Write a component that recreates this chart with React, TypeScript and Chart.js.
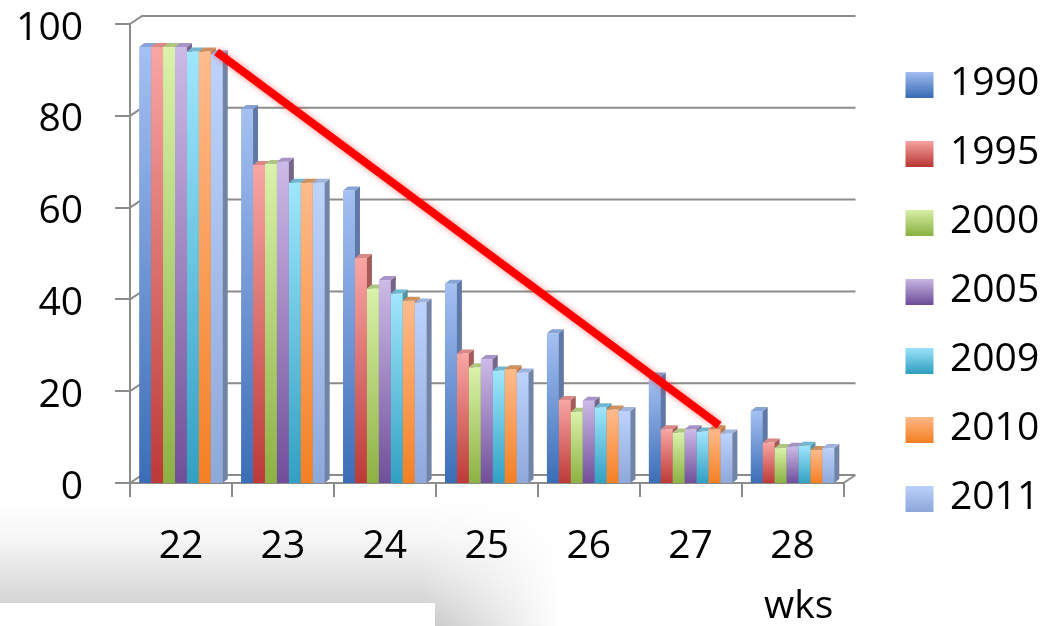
import React, { useEffect, useRef } from "react";
import { Chart, registerables } from "chart.js";

Chart.register(...registerables);

// ---- data ----
const weeks = ["22", "23", "24", "25", "26", "27", "28"];
const years = ["1990", "1995", "2000", "2005", "2009", "2010", "2011"];
const s1990 = [95, 81.5, 63.7, 43.4, 32.6, 23.2, 15.7];
const s1995 = [95, 69.3, 49, 28.2, 18.1, 11.7, 8.8];
const s2000 = [95, 69.5, 42.4, 25.2, 15.5, 11, 7.6];
const s2005 = [95, 70, 44.2, 27, 17.9, 11.7, 7.9];
const s2009 = [94, 65.4, 41.3, 24.5, 16.5, 11.2, 8.1];
const s2010 = [94, 65.4, 39.7, 24.8, 16, 11.7, 7.2];
const s2011 = [93.4, 65.4, 39.3, 24.1, 15.7, 10.8, 7.6];
const yTicks = [0, 20, 40, 60, 80, 100];
const trendX = [0.85, 5.78];
const trendY = [93.9, 12.6];
const axisTitle = "wks";

const seriesValues = [s1990, s1995, s2000, s2005, s2009, s2010, s2011];

// ---- styles ----
const palette = [
  { top: "#a5c0f2", bottom: "#3b6db6", side: "#5f78a6", cap: "#86a2d6" },
  { top: "#f8a6a4", bottom: "#bc3a37", side: "#a35a58", cap: "#d98886" },
  { top: "#daf2aa", bottom: "#8db144", side: "#809b56", cap: "#aec67f" },
  { top: "#ccbae7", bottom: "#704f99", side: "#776489", cap: "#a693c7" },
  { top: "#a0e6fc", bottom: "#32a0c2", side: "#5592a5", cap: "#72b6cf" },
  { top: "#ffbb8c", bottom: "#f38024", side: "#bf7c4a", cap: "#cf9060" },
  { top: "#bdd3fd", bottom: "#8ea8da", side: "#7284a6", cap: "#9fb4dc" },
];
const FONT = "'Open Sans', 'DejaVu Sans', sans-serif";
const GRID = "#8c8c8c";
const CAT_PCT = 0.82;

export default function App() {
  const ref = useRef<HTMLCanvasElement>(null);

  useEffect(() => {
    const canvas = ref.current;
    if (!canvas) return;
    const DX = 5, DY = 4; // bar depth
    const WX = 12, WY = 8; // back wall offset

    const fake3d = {
      id: "fake3d",
      beforeDatasetsDraw(chart: any) {
        const ctx = chart.ctx;
        const { left, right } = chart.chartArea;
        const ys = chart.scales.y;
        const xs = chart.scales.x;
        ctx.save();
        ctx.strokeStyle = GRID;
        ctx.lineWidth = 2;
        yTicks.forEach((v) => {
          const y = ys.getPixelForValue(v);
          ctx.beginPath();
          ctx.moveTo(left, y);
          ctx.lineTo(left + WX, y - WY);
          ctx.lineTo(right + WX, y - WY);
          if (v === 0) {
            ctx.moveTo(right, y);
            ctx.lineTo(right + WX, y - WY);
          }
          ctx.stroke();
        });
        const n = seriesValues.length;
        const catW = Math.abs(xs.getPixelForValue(1) - xs.getPixelForValue(0));
        const bw = (catW * CAT_PCT) / n;
        const base = ys.getPixelForValue(0);
        seriesValues.forEach((vals, i) => {
          const c = palette[i];
          vals.forEach((v, j) => {
            const cx = xs.getPixelForValue(j);
            const l = cx - (catW * CAT_PCT) / 2 + bw * i;
            const r = l + bw;
            const y = ys.getPixelForValue(v);
            const g = ctx.createLinearGradient(0, y, 0, base);
            g.addColorStop(0, c.top);
            g.addColorStop(1, c.bottom);
            ctx.fillStyle = g;
            ctx.fillRect(l, y, bw + 0.5, base - y);
            ctx.fillStyle = c.side;
            ctx.beginPath();
            ctx.moveTo(r, y);
            ctx.lineTo(r + DX, y - DY);
            ctx.lineTo(r + DX, base - DY);
            ctx.lineTo(r, base);
            ctx.closePath();
            ctx.fill();
            ctx.fillStyle = c.cap;
            ctx.beginPath();
            ctx.moveTo(l, y);
            ctx.lineTo(l + DX, y - DY);
            ctx.lineTo(r + DX, y - DY);
            ctx.lineTo(r, y);
            ctx.closePath();
            ctx.fill();
          });
        });
        ctx.restore();
      },
      beforeDatasetDraw(chart: any, args: any) {
        if (args.meta.type === "bar") return false;
        const ctx = chart.ctx;
        ctx.save();
        ctx.shadowColor = "rgba(255,0,0,0.45)";
        ctx.shadowBlur = 6;
        return true;
      },
      afterDatasetDraw(chart: any, args: any) {
        if (args.meta.type !== "bar") chart.ctx.restore();
      },
      afterDraw(chart: any) {
        const lg = chart.legend;
        if (!lg || !lg.legendHitBoxes) return;
        const ctx = chart.ctx;
        const bw = 28, bh = 26, fs = 39;
        lg.legendHitBoxes.forEach((hb: any, k: number) => {
          const item = lg.legendItems[k];
          if (!item) return;
          const c = palette[item.datasetIndex];
          const top = hb.top + Math.max((fs - bh) / 2, 0);
          const g = ctx.createLinearGradient(0, top, 0, top + bh);
          g.addColorStop(0, c.top);
          g.addColorStop(1, c.bottom);
          ctx.save();
          ctx.fillStyle = g;
          ctx.fillRect(hb.left + 3, top + 1, bw, bh);
          ctx.restore();
        });
      },
    };

    const datasets: any[] = seriesValues.map((vals, i) => ({
      type: "bar",
      label: years[i],
      data: vals,
      backgroundColor: palette[i].bottom,
      borderWidth: 0,
      order: 1,
      categoryPercentage: CAT_PCT,
      barPercentage: 1.0,
      xAxisID: "x",
      yAxisID: "y",
    }));
    datasets.push({
      type: "line",
      label: "trend",
      data: trendX.map((x, i) => ({ x, y: trendY[i] })),
      xAxisID: "x2",
      yAxisID: "y",
      borderColor: "#ff0000",
      borderWidth: 8,
      pointRadius: 0,
      borderCapStyle: "butt",
      fill: false,
      order: 0,
      clip: false,
    });

    const chart = new Chart(canvas, {
      type: "bar",
      data: { labels: weeks, datasets },
      options: {
        animation: false,
        responsive: true,
        maintainAspectRatio: false,
        layout: { padding: { top: 0, left: 0, right: 0, bottom: 0 } },
        plugins: {
          tooltip: { enabled: false },
          legend: {
            position: "right",
            align: "start",
            title: { display: true, text: "", font: { size: 10 }, padding: { top: 11, bottom: 11.5 } },
            labels: {
              font: { family: FONT, size: 39 },
              color: "#000",
              boxWidth: 28,
              boxHeight: 26,
              padding: 30,
              generateLabels: (ch: any) =>
                Chart.defaults.plugins.legend.labels
                  .generateLabels(ch)
                  .filter((it: any) => it.datasetIndex < years.length)
                  .sort((a: any, b: any) => a.datasetIndex - b.datasetIndex)
                  .map((it: any) => ({ ...it, fillStyle: "rgba(0,0,0,0)", strokeStyle: "rgba(0,0,0,0)", lineWidth: 0 })),
            },
          },
        },
        scales: {
          x: {
            type: "category",
            offset: true,
            grid: {
              offset: true,
              drawOnChartArea: false,
              drawTicks: true,
              tickLength: 14,
              color: GRID,
              lineWidth: 2,
            },
            border: { display: true, color: GRID, width: 2 },
            ticks: { font: { family: FONT, size: 39 }, color: "#000", padding: 26, maxRotation: 0 },
            title: {
              display: true,
              text: axisTitle + " ",
              align: "end",
              color: "#000",
              font: { family: FONT, size: 39, lineHeight: 1 },
              padding: { top: 0, bottom: 0 },
            },
            afterFit: (s: any) => {
              s.height = 143;
            },
          },
          x2: { type: "linear", min: 0, max: 7, offset: false, display: false },
          y: {
            type: "linear",
            min: 0,
            max: 100,
            ticks: {
              stepSize: 20,
              font: { family: FONT, size: 39, lineHeight: 0.23 },
              color: "#000",
              padding: 32,
              callback: (v: any) => ["", String(v)],
            },
            grid: { drawOnChartArea: false, drawTicks: true, tickLength: 15, color: GRID, lineWidth: 2 },
            border: { display: true, color: GRID, width: 2 },
            afterFit: (s: any) => {
              s.width = 130;
              s.paddingTop = 24;
              s.paddingBottom = 23;
            },
          },
          yR: {
            type: "linear",
            position: "right",
            min: 0,
            max: 100,
            display: true,
            grid: { display: false, drawTicks: false },
            border: { display: false },
            ticks: { display: false },
            afterFit: (s: any) => {
              s.width = 29;
              s.paddingTop = 0;
              s.paddingBottom = 0;
            },
          },
        },
      } as any,
      plugins: [fake3d],
    });
    return () => chart.destroy();
  }, []);

  return (
    <div style={{ position: "absolute", left: 0, top: 0, width: 1047, height: 626, background: "#ffffff", overflow: "hidden" }}>
      <div
        style={{
          position: "absolute",
          left: 0,
          top: 500,
          width: 560,
          height: 126,
          background: "linear-gradient(to bottom, #ffffff 0%, #f6f6f6 30%, #e0e0e0 65%, #c6c6c6 100%)",
          WebkitMaskImage: "linear-gradient(to right, #000 0px, #000 420px, transparent 560px)",
          maskImage: "linear-gradient(to right, #000 0px, #000 420px, transparent 560px)",
        }}
      />
      <div style={{ position: "absolute", left: 0, top: 603, width: 435, height: 23, background: "#ffffff" }} />
      <div style={{ position: "absolute", left: 0, top: 0, width: 1047, height: 626 }}>
        <canvas ref={ref} />
      </div>
    </div>
  );
}
